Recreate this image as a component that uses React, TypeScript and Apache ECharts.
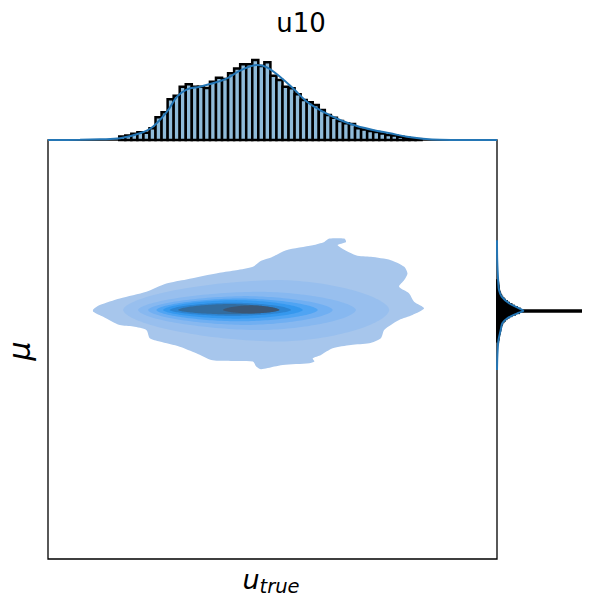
import React, { useEffect, useRef } from "react";
import * as echarts from "echarts";

// ---------- texts ----------
const titleText = "u10";
const xLabelMain = "u";
const xLabelSub = "true";
const yLabelText = "μ";

// ---------- axis ranges ----------
const xRange = [-15, 15];
const yRange = [-14, 14];
const topCountMax = 840;
const rightCountMax = 8400;

// ---------- top marginal histogram (u_true) ----------
const topBinStart = -10.24;
const topBinWidth = 0.404;
const topCounts = [
  35, 45, 63, 77, 72, 117, 227, 277, 407, 443, 533, 557, 533, 533, 520, 583, 623, 610, 667, 715,
  757, 757, 800, 740, 777, 643, 600, 533, 517, 457, 400, 377, 350, 300, 250, 223, 190, 167, 160, 117,
  105, 90, 80, 65, 50, 45, 33, 23, 15, 8,
];
const topKdeX = [-15, -12.86, -11.52, -10.19, -8.85, -7.99, -7.05, -6.38, -5.71, -4.85, -3.98, -3.04, -2.17, -1.04, -0.37, 0.5, 1.37, 2.3, 3.37, 4.51, 5.64, 6.71, 7.85, 8.98, 10.05, 11.19, 15];
const topKdeY = [0, 2, 7, 17, 67, 133, 283, 433, 507, 533, 567, 617, 693, 750, 727, 633, 517, 383, 283, 200, 140, 100, 67, 33, 13, 3, 0];

// ---------- right marginal histogram (mu) ----------
const rightBinStart = 0.53;
const rightBinWidth = 0.1;
const rightCounts = [
  120, 140, 160, 190, 220, 250, 280, 320, 350, 380, 420, 470, 530, 650, 800, 950, 1150, 1450, 1800, 2200,
  8400, 2300, 2000, 1700, 1450, 1200, 1000, 800, 650, 520, 420, 340, 280, 230, 200, 180, 160, 140, 120, 110, 100,
];
const rightKdeY = [7.3, 5.98, 4.45, 3.98, 3.53, 3.09, 2.75, 2.59, 2.42, 2.09, 1.75, 1.3, 0.64, -0.37, -1.37];
const rightKdeV = [0, 20, 130, 200, 470, 1200, 2200, 2630, 2030, 1030, 530, 370, 150, 40, 0];

// ---------- bivariate KDE contours ----------
const contourColors = ["#a7c6ec", "#98bfee", "#87b8f0", "#70aff2", "#4fa4f3", "#3598ee", "#2c84d2", "#336c9e", "#3b5674"];
// outermost level as a traced outline [x, y]
const outerContour = [
  [-11.98, 2.68], [-11.54, 2.97], [-10.2, 3.41], [-8.43, 3.86], [-7.09, 4.41], [-5.76, 4.68], [-3.54, 5.13],
  [-2.43, 5.3], [-1.31, 5.53], [-0.76, 5.93], [-0.09, 6.15], [0.91, 6.64], [2.69, 6.97], [3.46, 7.19],
  [3.8, 7.41], [4.8, 7.41], [4.91, 7.19], [4.35, 6.97], [5.57, 6.3], [6.57, 6.19], [7.91, 5.97], [8.8, 5.53],
  [9.02, 5.08], [8.8, 4.64], [8.46, 4.19], [9.13, 3.75], [9.46, 3.19], [10.13, 2.75], [9.35, 2.3], [8.46, 1.97],
  [7.91, 1.64], [7.46, 1.3], [7.24, 0.75], [6.46, 0.41], [5.24, 0.3], [4.02, 0.08], [3.24, -0.36], [2.69, -0.59],
  [2.8, -0.81], [2.46, -0.92], [0.69, -1.03], [0.13, -1.14], [-0.76, -1.32], [-1.09, -1.14], [-1.31, -0.81],
  [-3.09, -0.76], [-4.09, -0.7], [-5.09, -0.25], [-6.2, 0.19], [-7.54, 0.53], [-8.2, 0.75], [-8.43, 1.3],
  [-9.31, 1.53], [-10.2, 1.63], [-11.31, 2.19], [-11.98, 2.53],
];
// inner levels: [xAtExtremes, yAtTips, leftTipX, rightTipX, topY, bottomY]
const innerContours = [
  [0.46, 2.64, -9.98, 7.8, 4.64, 0.53],
  [-0.87, 2.64, -8.98, 5.57, 3.86, 1.3],
  [-1.76, 2.64, -8.31, 4.02, 3.57, 1.64],
  [-2.2, 2.64, -7.76, 3.02, 3.41, 1.88],
  [-2.43, 2.64, -7.31, 2.02, 3.3, 2.06],
  [-2.65, 2.64, -6.87, 1.24, 3.13, 2.24],
  [-2.87, 2.64, -6.31, 0.46, 3.04, 2.35],
  [-1.43, 2.64, -3.31, 0.46, 2.95, 2.41],
];

const FONT = '"DejaVu Sans", sans-serif';

export default function App() {
  const ref = useRef<HTMLDivElement>(null);
  useEffect(() => {
    if (!ref.current) return;
    const chart = echarts.init(ref.current, undefined, { renderer: "svg" });
    const hiddenAxis = { show: false };
    const option: any = {
      animation: false,
      grid: [
        { left: 48, top: 140, width: 449, height: 419, show: true, borderColor: "#000", borderWidth: 1.3, backgroundColor: "transparent" },
        { left: 48, top: 56, width: 449, height: 84 },
        { left: 497, top: 140, width: 84, height: 419 },
      ],
      xAxis: [
        { type: "value", gridIndex: 0, min: xRange[0], max: xRange[1], ...hiddenAxis },
        { type: "value", gridIndex: 1, min: xRange[0], max: xRange[1], ...hiddenAxis },
        { type: "value", gridIndex: 2, min: 0, max: rightCountMax, ...hiddenAxis },
      ],
      yAxis: [
        { type: "value", gridIndex: 0, min: yRange[0], max: yRange[1], ...hiddenAxis },
        { type: "value", gridIndex: 1, min: 0, max: topCountMax, ...hiddenAxis },
        { type: "value", gridIndex: 2, min: yRange[0], max: yRange[1], ...hiddenAxis },
      ],
      series: [
        {
          type: "custom",
          xAxisIndex: 0,
          yAxisIndex: 0,
          data: contourColors.map((_, i) => [i, 0]),
          encode: { x: 0, y: 1 },
          renderItem: (params: any, api: any) => {
            const i = params.dataIndex;
            let pts: number[][];
            if (i === 0) {
              pts = outerContour.map((p) => api.coord(p));
            } else {
              const [cx, cy, xl, xr, yt, yb] = innerContours[i - 1];
              pts = [];
              const n = 160;
              const ex = 2 / 1.7;
              for (let k = 0; k < n; k++) {
                const t = (k / n) * Math.PI * 2;
                const c = Math.cos(t);
                const s = Math.sin(t);
                const dx = Math.sign(c) * Math.pow(Math.abs(c), ex);
                const dy = Math.sign(s) * Math.pow(Math.abs(s), ex);
                const x = cx + dx * (c < 0 ? cx - xl : xr - cx);
                const y = cy + dy * (s > 0 ? yt - cy : cy - yb);
                pts.push(api.coord([x, y]));
              }
            }
            return {
              type: "polygon",
              shape: { points: pts, smooth: i === 0 ? 0.25 : 0 },
              style: { fill: contourColors[i] },
            };
          },
        },
        {
          type: "custom",
          xAxisIndex: 1,
          yAxisIndex: 1,
          data: topCounts.map((c, i) => [topBinStart + i * topBinWidth, topBinStart + (i + 1) * topBinWidth, c]),
          encode: { x: [0, 1], y: 2 },
          renderItem: (params: any, api: any) => {
            const p0 = api.coord([api.value(0), 0]);
            const p1 = api.coord([api.value(1), api.value(2)]);
            return {
              type: "rect",
              shape: { x: p0[0], y: p1[1], width: p1[0] - p0[0], height: p0[1] - p1[1] },
              style: { fill: "#8fbbd9", stroke: "#000", lineWidth: 2.5 },
            };
          },
          z: 2,
        },
        {
          type: "line",
          xAxisIndex: 1,
          yAxisIndex: 1,
          data: topKdeX.map((x, i) => [x, topKdeY[i]]),
          smooth: 0.35,
          showSymbol: false,
          lineStyle: { color: "#2476b5", width: 2 },
          z: 3,
        },
        {
          type: "custom",
          xAxisIndex: 2,
          yAxisIndex: 2,
          data: rightCounts.map((c, i) => [rightBinStart + i * rightBinWidth, rightBinStart + (i + 1) * rightBinWidth, c]),
          encode: { x: 2, y: [0, 1] },
          renderItem: (params: any, api: any) => {
            const p0 = api.coord([0, api.value(0)]);
            const p1 = api.coord([api.value(2), api.value(1)]);
            return {
              type: "rect",
              shape: { x: p0[0], y: p1[1], width: p1[0] - p0[0], height: p0[1] - p1[1] },
              style: { fill: "#000", stroke: "#000", lineWidth: 2 },
            };
          },
          z: 2,
        },
        {
          type: "line",
          xAxisIndex: 2,
          yAxisIndex: 2,
          data: rightKdeY.map((y, i) => [rightKdeV[i], y]),
          smooth: 0.3,
          showSymbol: false,
          lineStyle: { color: "#2476b5", width: 2 },
          z: 3,
        },
      ],
      graphic: [
        {
          type: "text",
          x: 301,
          y: 22.5,
          style: { text: titleText, font: `26px ${FONT}`, fill: "#000", textAlign: "center", textVerticalAlign: "middle" },
        },
        {
          type: "text",
          x: 242.5,
          y: 579,
          style: { text: xLabelMain, font: `italic 27px ${FONT}`, fill: "#000", textAlign: "left", textVerticalAlign: "middle" },
        },
        {
          type: "text",
          x: 259.5,
          y: 586.5,
          style: { text: xLabelSub, font: `italic 19.5px ${FONT}`, fill: "#000", textAlign: "left", textVerticalAlign: "middle" },
        },
        {
          type: "text",
          x: 19,
          y: 351,
          rotation: Math.PI / 2,
          style: { text: yLabelText, font: `italic 30px ${FONT}`, fill: "#000", textAlign: "center", textVerticalAlign: "middle" },
        },
      ],
    };
    chart.setOption(option);
    return () => chart.dispose();
  }, []);
  return (
    <div
      ref={ref}
      style={{ position: "fixed", left: 0, top: 0, width: 596, height: 607, background: "#fff" }}
    />
  );
}
